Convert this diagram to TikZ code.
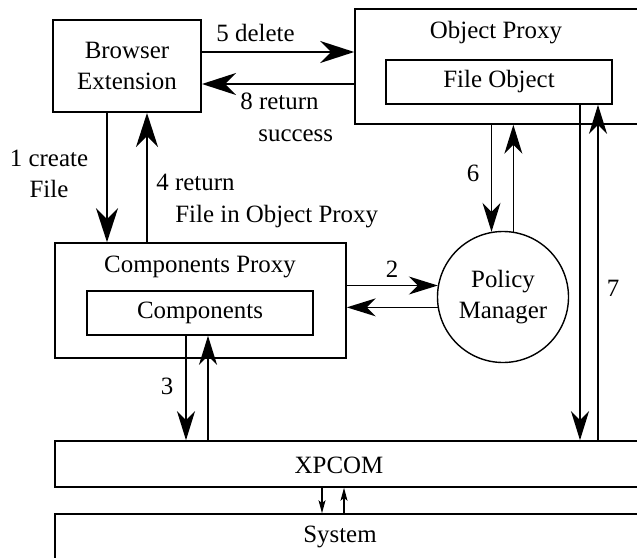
\documentclass[tikz,border=0pt]{standalone}
\usepackage{fontspec}
\setmainfont{Liberation Serif}
\newfontfamily\diagfont{Liberation Serif}
\usetikzlibrary{arrows.meta}

\tikzset{
  block/.style={draw, line width=0.8pt, inner sep=0pt, align=center},
  tag/.style={inner sep=0pt, align=center},
  bigarrow/.style={-{Stealth[length=17pt, width=11pt, inset=5.5pt]}, line width=1.1pt},
  thinarrow/.style={-{Stealth[length=14.5pt, width=9pt, inset=4.5pt]}, line width=0.8pt},
  tinyarrow/.style={-{Stealth[length=6.5pt, width=3.5pt, inset=1.5pt]}, line width=0.55pt}
}

\begin{document}
\begin{tikzpicture}[x=0.5pt, y=-0.5pt, font=\diagfont\fontsize{12.45}{15.75}\selectfont]
    \useasboundingbox (0,0) rectangle (637,557);

    \node[block, line width=1pt, minimum width=74pt, minimum height=46pt] (browser) at (127,66) {Browser\\Extension};

    \node[block, minimum width=152.5pt, minimum height=57.5pt] (objproxy) at (507.5,66.5) {};
         \node[tag] (objproxy_title) at (496,33) {Object Proxy};
         \node[block, minimum width=113pt, minimum height=22pt] (fileobj) at (499,82) {File Object};

    \node[block, minimum width=145.5pt, minimum height=57.5pt] (compproxy) at (200.5,300.5) {};
         \node[tag] (compproxy_title) at (200,267) {Components Proxy};
         \node[block, minimum width=113pt, minimum height=22pt] (components) at (200,313) {Components};

    \node[block, circle, line width=0.7pt, minimum size=65.5pt] (policy) at (503,297) {Policy\\Manager};

    \node[block, minimum width=302.5pt, minimum height=23pt] (xpcom) at (357.5,464) {};
         \node[tag] (xpcom_title) at (339,465) {XPCOM};

    \node[block, minimum width=302.5pt, minimum height=24pt] (system) at (357.5,538) {};
         \node[tag] (system_title) at (340,537) {System};

    % labels
    \node[tag] (lbl_delete) at (255.5,33) {5 delete};
    \node[tag, anchor=west, align=left] (lbl_success) at (240,117.5) {8 return\\\hspace*{9pt}success};
    \node[tag] (lbl_create) at (49,174) {1 create\\File};
    \node[tag, anchor=west, align=left] (lbl_return) at (156,201) {4 return\\\hspace*{9.5pt}File in Object Proxy};
    \node[tag] (lbl_two) at (392,269) {2};
    \node[tag] (lbl_three) at (167,386) {3};
    \node[tag] (lbl_six) at (473,173) {6};
    \node[tag] (lbl_seven) at (613,288) {7};

    \draw[bigarrow] ([yshift=7pt]browser.east) -- ([yshift=7pt]browser.east -| objproxy.west);
    \draw[bigarrow] ([yshift=-9pt]browser.east -| objproxy.west) -- ([yshift=-9pt]browser.east);

    \draw[bigarrow] ([xshift=-10pt]browser.south) -- ([xshift=-10pt]browser.south |- compproxy.north);
    \draw[bigarrow] ([xshift=10pt]browser.south |- compproxy.north) -- ([xshift=10pt]browser.south);

    \draw[thinarrow] (compproxy.east |- policy.170) -- (policy.170);
    \draw[thinarrow] (policy.189) -- (compproxy.east |- policy.189);

    \draw[thinarrow] ([xshift=-7pt]components.south) -- ([xshift=-7pt]components.south |- xpcom.north);
    \draw[thinarrow] ([xshift=4pt]components.south |- xpcom.north) -- ([xshift=4pt]components.south);

    \draw[thinarrow] (objproxy.south -| policy.100) -- (policy.100);
    \draw[thinarrow] (policy.81) -- (objproxy.south -| policy.81);

    \draw[thinarrow] ([xshift=40.5pt]fileobj.south) -- ([xshift=40.5pt]fileobj.south |- xpcom.north);
    \draw[thinarrow] ([xshift=49.5pt]fileobj.south |- xpcom.north) -- ([xshift=49.5pt]fileobj.south);

    \draw[tinyarrow] ([xshift=-17.75pt]xpcom.south) -- ([xshift=-17.75pt]xpcom.south |- system.north);
    \draw[tinyarrow] ([xshift=-6.75pt]xpcom.south |- system.north) -- ([xshift=-6.75pt]xpcom.south);
\end{tikzpicture}
\end{document}
